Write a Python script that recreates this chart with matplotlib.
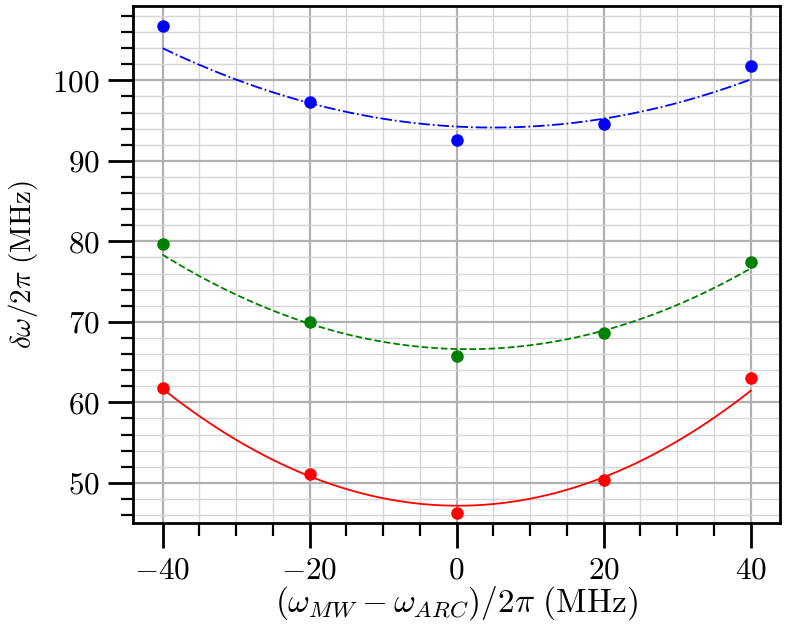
import numpy as np
import matplotlib
matplotlib.use("Agg")
import matplotlib.pyplot as plt
from matplotlib.ticker import MultipleLocator, FuncFormatter

plt.rcParams["mathtext.fontset"] = "cm"
plt.rcParams["font.family"] = "serif"
plt.rcParams["font.serif"] = ["cmr10", "DejaVu Serif"]
plt.rcParams["axes.formatter.use_mathtext"] = True

# detuning of the microwave from the ARC value (MHz)
detuning = [-40, -20, 0, 20, 40]

# measured splittings (MHz)
blue_vals = [106.8, 97.3, 92.55, 94.6, 101.75]
green_vals = [79.7, 69.95, 65.8, 68.65, 77.4]
red_vals = [61.75, 51.1, 46.2, 50.4, 63.0]

# model curves, read at the same detunings (MHz)
blue_model = [103.95, 97.3, 94.2, 95.2, 100.15]
green_model = [78.35, 69.8, 66.5, 69.05, 76.6]
red_model = [61.6, 51.05, 46.95, 50.75, 61.45]

fig = plt.figure(figsize=(7.88, 6.31), dpi=100)
ax = fig.add_axes([0.169, 0.171, 0.821, 0.819])

x_fit = np.linspace(detuning[0], detuning[-1], 200)
series = [
    (blue_vals, blue_model, "blue", "-."),
    (green_vals, green_model, "green", "--"),
    (red_vals, red_model, "red", "-"),
]
for vals, model, col, ls in series:
    coef = np.polyfit(detuning, model, 2)
    ax.plot(x_fit, np.polyval(coef, x_fit), color=col, linestyle=ls, linewidth=1.3, zorder=3)
    ax.plot(detuning, vals, "o", color=col, markersize=8, zorder=4)

ax.set_xlim(-44, 44)
ax.set_ylim(45, 109.2)

ax.xaxis.set_major_locator(MultipleLocator(20))
ax.xaxis.set_minor_locator(MultipleLocator(5))
ax.yaxis.set_major_locator(MultipleLocator(10))
ax.yaxis.set_minor_locator(MultipleLocator(2))
fmt = FuncFormatter(lambda v, p: r"$%g$" % v)
ax.xaxis.set_major_formatter(fmt)
ax.yaxis.set_major_formatter(fmt)

ax.grid(which="major", color="#b0b0b0", linewidth=1.6)
ax.grid(which="minor", color="#d6d6d6", linewidth=1.0)
ax.set_axisbelow(True)

ax.tick_params(which="major", length=18, width=2, labelsize=22.5, pad=6)
ax.tick_params(which="minor", length=9, width=1.6)
for s in ax.spines.values():
    s.set_linewidth(2)

ax.set_xlabel(r"$(\omega_{MW}-\omega_{ARC})/2\pi\ \mathrm{(MHz)}$", fontsize=24, labelpad=0)
ax.set_ylabel(r"$\delta\omega/2\pi\ \mathrm{(MHz)}$", fontsize=21, labelpad=9)

fig.savefig("out.png", dpi=100)
